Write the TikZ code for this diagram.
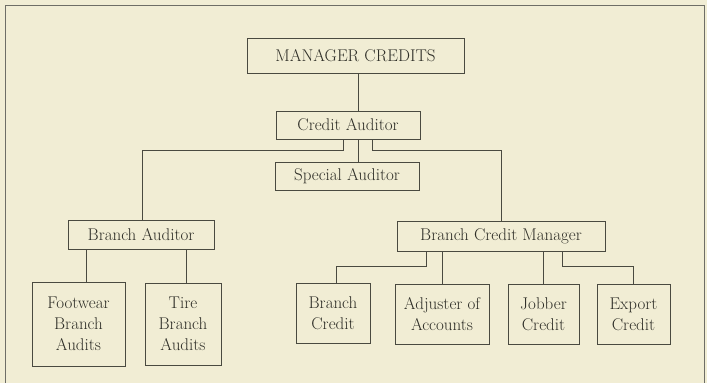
\documentclass[tikz,border=0pt]{standalone}
\usepackage{tikz}

\definecolor{paper}{HTML}{F1EDD4}
\definecolor{ink}{HTML}{4A4A40}
\definecolor{lettering}{HTML}{2E2E27}

\begin{document}
\begin{tikzpicture}[x=1pt,y=-1pt,
    box/.style={draw=ink, line width=0.9pt, inner sep=0pt, align=center,
      text=lettering, font=\fontsize{17}{21}\selectfont},
    wire/.style={draw=ink, line width=0.9pt}]
  \useasboundingbox (0,0) rectangle (707,383);
  \fill[paper] (0,0) rectangle (707,383);
  % frame, open at the bottom
  \draw[wire, ink!80] (5,383) -- (5,5) -- (704,5) -- (704,383);

  \coordinate (SpineX) at (358,0);

  % top of the chart
  \node[box, minimum width=217pt, minimum height=35pt] (ManagerCredits) at (355.5,55.5) {MANAGER CREDITS};
  \node[box, minimum width=144pt, minimum height=28pt] (CreditAuditor) at (348,125) {Credit Auditor};
  \node[box, minimum width=144pt, minimum height=28pt] (SpecialAuditor) at (347,176) {Special Auditor};

  % second level
  \node[box, minimum width=146pt, minimum height=29pt] (BranchAuditor) at (141,234.5) {Branch Auditor};
  \node[box, minimum width=208pt, minimum height=30pt] (BranchCreditManager) at (501,236) {Branch Credit Manager};

  % bottom row
  \node[box, minimum width=93pt, minimum height=84pt] (FootwearAudits) at (78.5,324) {Footwear\\Branch\\Audits};
  \node[box, minimum width=76pt, minimum height=82pt] (TireAudits) at (183,324) {Tire\\Branch\\Audits};
  \node[box, minimum width=74pt, minimum height=60pt] (BranchCredit) at (333,313.5) {Branch\\Credit};
  \node[box, minimum width=94pt, minimum height=60pt] (AdjusterAccounts) at (442,314) {Adjuster of\\Accounts};
  \node[box, minimum width=71pt, minimum height=60pt] (JobberCredit) at (543.5,314) {Jobber\\Credit};
  \node[box, minimum width=73pt, minimum height=60pt] (ExportCredit) at (633.5,314) {Export\\Credit};

  % connectors
  \draw[wire] (ManagerCredits.south -| SpineX) -- (CreditAuditor.north -| SpineX);
  \draw[wire] (CreditAuditor.south -| SpineX) -- (SpecialAuditor.north -| SpineX);
  \draw[wire] ([xshift=-5pt]CreditAuditor.south) -- ++(0,11) -| ([xshift=1pt]BranchAuditor.north);
  \draw[wire] ([xshift=24pt]CreditAuditor.south) -- ++(0,11) -| (BranchCreditManager.north);

  \draw[wire] ([xshift=-55pt]BranchAuditor.south) -- ([xshift=7.5pt]FootwearAudits.north);
  \draw[wire] ([xshift=45pt]BranchAuditor.south) -- ([xshift=3pt]TireAudits.north);

  \draw[wire] ([xshift=-75pt]BranchCreditManager.south) -- ++(0,15) -| ([xshift=3pt]BranchCredit.north);
  \draw[wire] (AdjusterAccounts.north) -- (AdjusterAccounts.north |- BranchCreditManager.south);
  \draw[wire] (JobberCredit.north) -- (JobberCredit.north |- BranchCreditManager.south);
  \draw[wire] ([xshift=61pt]BranchCreditManager.south) -- ++(0,15) -| (ExportCredit.north);
\end{tikzpicture}
\end{document}
